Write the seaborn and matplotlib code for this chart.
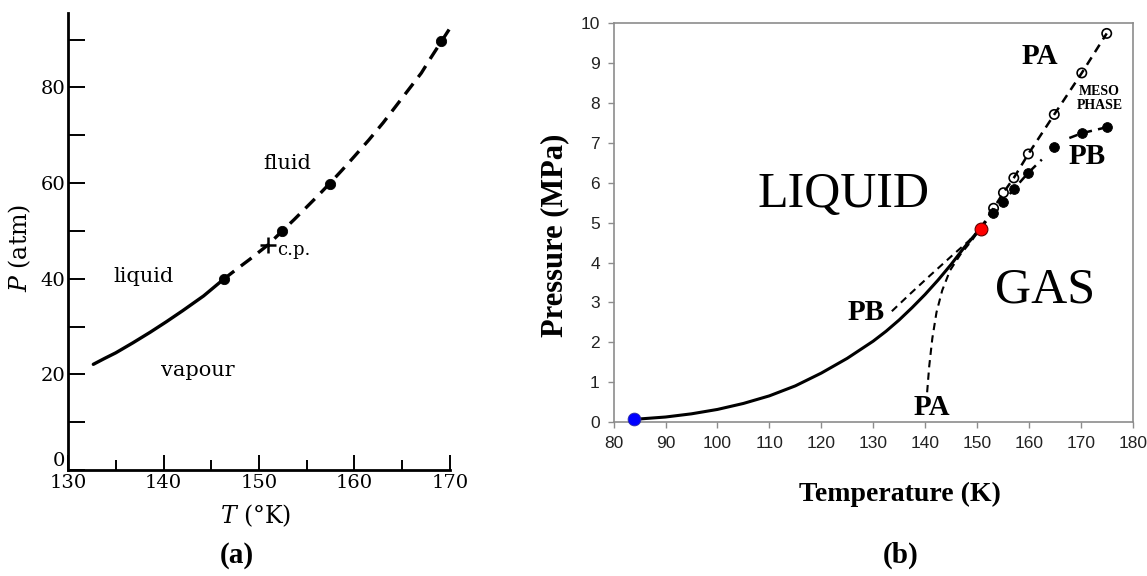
import numpy as np
import pandas as pd
import matplotlib
matplotlib.use("Agg")
import matplotlib.pyplot as plt
import seaborn as sns

# ---------------- data: panel (a) ----------------
a_solid_T = [132.65, 133.8, 135.0, 136.8, 138.6, 140.3, 142.0, 144.2, 146.3]
a_solid_P = [22.1, 23.3, 24.5, 26.6, 28.8, 31.0, 33.3, 36.4, 39.9]
a_dash_T = [146.3, 147.6, 149.0, 150.9, 152.4, 153.7, 155.0, 156.2, 157.4, 158.7,
            160.0, 161.5, 163.0, 164.0, 165.0, 166.0, 167.0, 168.0, 169.1, 170.2]
a_dash_P = [39.9, 41.9, 44.0, 47.0, 49.9, 52.4, 55.0, 57.4, 59.9, 62.7,
            65.6, 69.0, 72.6, 75.2, 77.8, 80.4, 83.0, 86.2, 89.6, 93.0]
a_pts_T = [146.3, 152.4, 157.4, 169.1]
a_pts_P = [40.0, 49.9, 59.9, 89.6]
a_cp = (150.9, 47.0)
a_xticks = [130, 140, 150, 160, 170]
a_yticks = [0, 20, 40, 60, 80]

# ---------------- data: panel (b) ----------------
vp_T = [83.8, 90, 95, 100, 105, 110, 115, 120, 125, 130, 132.5, 135, 137.5, 140,
        142.5, 145, 147.5, 150.7]
vp_P = [0.07, 0.13, 0.21, 0.32, 0.47, 0.66, 0.91, 1.23, 1.60, 2.03, 2.28, 2.56, 2.87, 3.20,
        3.56, 3.95, 4.37, 4.86]
pb_low_T = [133.6, 137.0, 141.0, 145.0, 148.5, 150.7]
pb_low_P = [2.78, 3.20, 3.68, 4.15, 4.55, 4.86]
pa_low_T = [140.4, 140.8, 141.4, 142.2, 143.3, 144.8, 146.8, 149.0, 150.7]
pa_low_P = [0.75, 1.40, 2.10, 2.75, 3.30, 3.80, 4.20, 4.55, 4.86]
pa_up_T = [150.7, 153.2, 155.1, 157.1, 159.9, 164.9, 170.2, 175.0]
pa_up_P = [4.86, 5.36, 5.75, 6.12, 6.72, 7.71, 8.75, 9.74]
pb_up1_T = [150.7, 153.0, 155.1, 157.1, 159.9, 162.5]
pb_up1_P = [4.86, 5.23, 5.52, 5.84, 6.25, 6.58]
pb_up2_T = [167.8, 170.2, 175.0]
pb_up2_P = [7.12, 7.24, 7.39]
open_T = [153.2, 155.1, 157.1, 159.9, 164.9, 170.2, 175.0]
open_P = [5.36, 5.75, 6.12, 6.72, 7.71, 8.75, 9.74]
fill_T = [153.0, 155.1, 157.1, 159.9, 164.9, 170.2, 175.0]
fill_P = [5.23, 5.52, 5.84, 6.25, 6.90, 7.24, 7.39]
crit_b = (150.75, 4.85)
triple_b = (84.0, 0.07)
b_xticks = list(range(80, 181, 10))
b_yticks = list(range(0, 11))

sns.set_style("white")
plt.rcParams["mathtext.fontset"] = "dejavuserif"
plt.rcParams["text.color"] = "black"
plt.rcParams["axes.labelcolor"] = "black"

fig = plt.figure(figsize=(11.47, 5.76), dpi=100)

# ================= panel (a) =================
axa = fig.add_axes([0.0593, 0.184, 0.333, 0.793])
sns.lineplot(x=a_solid_T, y=a_solid_P, ax=axa, color="black", lw=2.4, sort=False)
sns.lineplot(x=a_dash_T, y=a_dash_P, ax=axa, color="black", lw=2.4, sort=False,
             linestyle=(0, (4, 2.5)))
for l in axa.lines:
    l.set_clip_on(False)
sns.scatterplot(x=a_pts_T, y=a_pts_P, ax=axa, color="black", s=55, edgecolor="black", zorder=5)
axa.plot([a_cp[0]], [a_cp[1]], marker="+", ms=11, mew=1.8, color="black")
axa.set_xlim(130, 170)
axa.set_ylim(0, 95.5)
axa.set_xticks(a_xticks)
axa.set_yticks(a_yticks)
axa.set_xticks([135, 145, 155, 165], minor=True)
axa.set_yticks([10, 30, 50, 70, 90], minor=True)
for s in ["top", "right"]:
    axa.spines[s].set_visible(False)
for s in ["left", "bottom"]:
    axa.spines[s].set_color("black")
    axa.spines[s].set_linewidth(2.0)
axa.tick_params(axis="both", which="both", direction="in", color="black", width=1.4,
                labelsize=14, labelcolor="black", bottom=True, left=True)
axa.tick_params(axis="x", which="major", length=11, pad=3)
axa.tick_params(axis="x", which="minor", length=7)
axa.tick_params(axis="y", which="both", length=12, pad=2)
for t in axa.get_xticklabels() + axa.get_yticklabels():
    t.set_fontfamily("DejaVu Serif")
axa.get_yticklabels()[0].set_va("bottom")
axa.set_xlabel(r"$T$ (°K)", fontsize=17, family="DejaVu Serif")
axa.set_ylabel(r"$P$ (atm)", fontsize=17, family="DejaVu Serif")
axa.xaxis.set_label_coords(0.49, -0.07)
axa.yaxis.set_label_coords(-0.092, 0.486)
axa.text(153.0, 64.1, "fluid", fontsize=15, family="DejaVu Serif", ha="center", va="center")
axa.text(137.9, 40.5, "liquid", fontsize=15, family="DejaVu Serif", ha="center", va="center")
axa.text(143.6, 20.9, "vapour", fontsize=15, family="DejaVu Serif", ha="center", va="center")
axa.text(153.6, 46.0, "c.p.", fontsize=13, family="DejaVu Serif", ha="center", va="center")

# ================= panel (b) =================
axb = fig.add_axes([0.535, 0.267, 0.4525, 0.693])
dash_b = (0, (3.5, 2.5))
sns.lineplot(x=vp_T, y=vp_P, ax=axb, color="black", lw=2.2, sort=False)
sns.lineplot(x=pb_low_T, y=pb_low_P, ax=axb, color="black", lw=1.5, sort=False, linestyle=dash_b)
sns.lineplot(x=pa_low_T, y=pa_low_P, ax=axb, color="black", lw=1.5, sort=False, linestyle=dash_b)
sns.lineplot(x=pa_up_T, y=pa_up_P, ax=axb, color="black", lw=1.8, sort=False, linestyle=dash_b)
sns.lineplot(x=pb_up1_T, y=pb_up1_P, ax=axb, color="black", lw=1.8, sort=False, linestyle=dash_b)
sns.lineplot(x=pb_up2_T, y=pb_up2_P, ax=axb, color="black", lw=1.8, sort=False, linestyle=dash_b)
sns.scatterplot(x=fill_T, y=fill_P, ax=axb, color="black", s=50, edgecolor="black", zorder=5)
sns.scatterplot(x=open_T, y=open_P, ax=axb, facecolor="none", s=45, edgecolor="black",
                linewidth=1.2, zorder=5)
sns.scatterplot(x=[crit_b[0]], y=[crit_b[1]], ax=axb, color="#ff0000", s=85,
                edgecolor="#600000", linewidth=0.8, zorder=6)
sns.scatterplot(x=[triple_b[0]], y=[triple_b[1]], ax=axb, color="#0000ff", s=85,
                edgecolor="#3030a0", linewidth=0.6, zorder=6)
for c in axb.collections:
    c.set_clip_on(False)
axb.set_xlim(80, 180)
axb.set_ylim(0, 10)
axb.set_xticks(b_xticks)
axb.set_yticks(b_yticks)
for s in axb.spines.values():
    s.set_color("#8c8c8c")
    s.set_linewidth(1.2)
axb.tick_params(axis="both", direction="out", length=4, width=1.0, color="#8c8c8c",
                labelsize=12.5, labelcolor="#222222", pad=6, bottom=True, left=True)
for t in axb.get_xticklabels() + axb.get_yticklabels():
    t.set_fontfamily("Liberation Sans")
axb.set_xlabel("Temperature (K)", fontsize=20, fontweight="bold", family="Liberation Serif")
axb.set_ylabel("Pressure (MPa)", fontsize=22, fontweight="bold", family="Liberation Serif")
axb.xaxis.set_label_coords(0.551, -0.15)
axb.yaxis.set_label_coords(-0.085, 0.467)

serif = "Liberation Serif"
axb.text(124.3, 5.69, "LIQUID", fontsize=36, family=serif, ha="center", va="center")
axb.text(163.2, 3.3, "GAS", fontsize=36, family=serif, ha="center", va="center")
axb.text(162.1, 9.16, "PA", fontsize=21, fontweight="bold", family=serif, ha="center", va="center")
axb.text(171.2, 6.65, "PB", fontsize=21, fontweight="bold", family=serif, ha="center", va="center")
axb.text(128.6, 2.76, "PB", fontsize=21, fontweight="bold", family=serif, ha="center", va="center")
axb.text(141.3, 0.36, "PA", fontsize=21, fontweight="bold", family=serif, ha="center", va="center")
axb.text(173.6, 8.1, "MESO\nPHASE", fontsize=10, fontweight="bold", family=serif,
         ha="center", va="center", linespacing=1.1)

# ---------------- panel labels ----------------
fig.text(0.2066, 0.036, "(a)", fontsize=21, fontweight="bold", family=serif, ha="center", va="center")
fig.text(0.785, 0.036, "(b)", fontsize=21, fontweight="bold", family=serif, ha="center", va="center")

fig.savefig("out.png", dpi=100, facecolor="white")
